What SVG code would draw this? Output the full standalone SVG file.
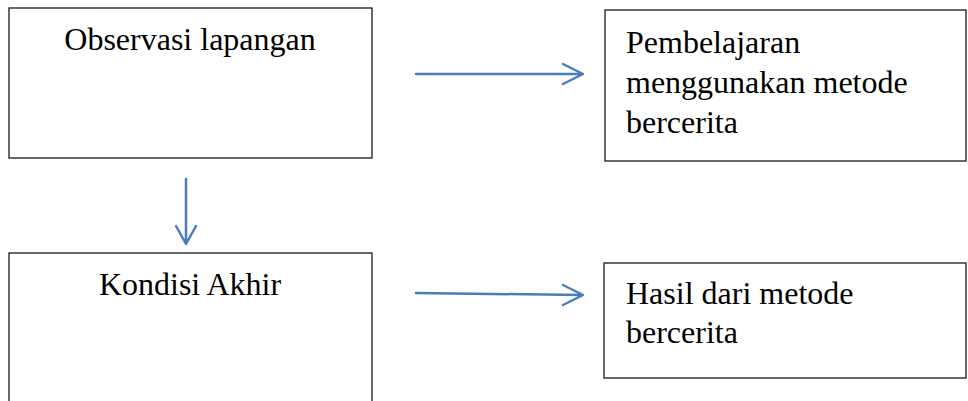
<svg xmlns="http://www.w3.org/2000/svg" width="968" height="401" viewBox="0 0 968 401">
<style>
.box{fill:#fff;stroke:#1a1a1a;stroke-width:1.3}
.t{font-family:"Liberation Serif","Times New Roman",serif;font-size:32px;fill:#000}
.c{text-anchor:middle}
.arr{fill:none;stroke:#4a7ebb;stroke-width:2.5;stroke-linecap:round;stroke-linejoin:round}
</style>
<rect width="968" height="401" fill="#fff"/>
<g id="observasi">
<rect class="box" x="9" y="8" width="363" height="150"/>
<text class="t c" x="190" y="50">Observasi lapangan</text>
</g>
<g id="pembelajaran">
<rect class="box" x="605" y="10" width="361" height="151"/>
<text class="t" x="626" y="53">Pembelajaran</text>
<text class="t" x="626" y="93">menggunakan metode</text>
<text class="t" x="626" y="133">bercerita</text>
</g>
<g id="kondisi">
<rect class="box" x="9" y="253" width="363" height="160"/>
<text class="t c" x="190" y="295">Kondisi Akhir</text>
</g>
<g id="hasil">
<rect class="box" x="604" y="263" width="362" height="115"/>
<text class="t" x="626" y="304">Hasil dari metode</text>
<text class="t" x="626" y="343">bercerita</text>
</g>
<g id="connectors">
<path class="arr" d="M416 74 H582 M563 64 L583 74 L563 84"/>
<path class="arr" d="M186 179 V243 M176 226 L186 244 L196 226"/>
<path class="arr" d="M416 293 L582 295 M563 285 L583 295 L563 305"/>
</g>
</svg>
